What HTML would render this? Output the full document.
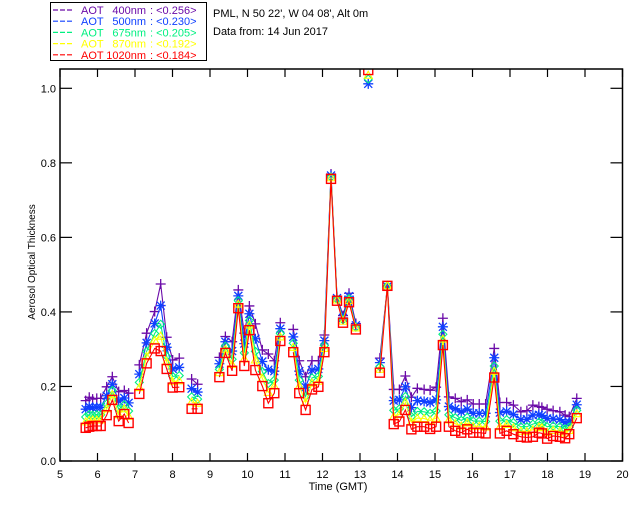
<!DOCTYPE html>
<html><head><meta charset="utf-8"><style>
html,body{margin:0;padding:0;background:#fff;}
svg{display:block;font-family:"Liberation Sans","DejaVu Sans",sans-serif;}
</style></head><body>
<svg id="chart" width="640" height="512" viewBox="0 0 640 512" xmlns="http://www.w3.org/2000/svg">
<rect x="0" y="0" width="640" height="512" fill="#fff"/>
<g id="legend"></g>
<text x="213" y="17" font-size="11">PML, N 50 22', W 04 08', Alt 0m</text>
<text x="213" y="35" font-size="11">Data from: 14 Jun 2017</text>
<defs><clipPath id="plotclip"><rect x="60" y="69" width="563" height="392"/></clipPath></defs>
<g id="series" clip-path="url(#plotclip)"></g>
<g id="axes"></g>
<text x="338" y="490" font-size="11" text-anchor="middle">Time (GMT)</text>
<text x="0" y="0" font-size="10" text-anchor="middle" transform="translate(35,262) rotate(-90)">Aerosol Optical Thickness</text>
</svg>
<script>
const times = [5.685,5.78,5.87,5.98,6.085,6.245,6.395,6.565,6.715,6.83,
7.115,7.31,7.525,7.685,7.845,8.005,8.18,
8.51,8.67,
9.25,9.41,9.59,9.755,9.915,10.05,10.21,10.395,10.555,10.715,10.875,
11.22,11.38,11.55,11.72,11.89,12.05,12.227,12.387,12.547,12.707,12.89,
13.22,
13.53,13.73,13.9,14.05,14.21,14.37,14.53,14.71,14.87,15.03,15.21,15.37,15.54,15.70,15.86,16.02,16.18,16.35,16.58,16.73,16.91,
17.09,17.29,17.45,17.61,17.77,17.85,17.99,18.15,18.33,18.47,18.58,18.78];
const aot400 = [.162,.171,.166,.168,.168,.199,.226,.186,.189,.182,
.258,.343,.401,.475,.332,.271,.276,
.220,.206,
.278,.334,.320,.459,.343,.416,.368,.298,.287,.269,.371,
.353,.269,.226,.269,.269,.338,.770,.441,.390,.450,.369,
1.08,
.276,.470,.192,.192,.228,.171,.195,.192,.190,.198,.383,.172,.168,.159,.164,.153,.153,.153,.302,.157,.157,
.150,.132,.135,.150,.146,.144,.139,.135,.132,.123,.119,.168];
const aot500 = [.139,.146,.143,.144,.144,.175,.206,.161,.169,.156,
.233,.317,.369,.417,.305,.247,.251,
.194,.185,
.261,.320,.295,.443,.315,.395,.328,.267,.245,.241,.355,
.333,.241,.198,.244,.247,.323,.766,.437,.384,.442,.364,
1.012,
.264,.468,.162,.164,.199,.143,.162,.160,.157,.164,.360,.146,.140,.132,.139,.128,.128,.128,.277,.130,.133,
.125,.111,.112,.123,.124,.122,.114,.113,.111,.103,.104,.151];
const aot675 = [.118,.124,.123,.124,.124,.153,.189,.139,.151,.134,
.211,.294,.342,.367,.281,.227,.229,
.172,.166,
.246,.308,.273,.430,.290,.377,.294,.240,.208,.217,.342,
.316,.217,.173,.223,.227,.310,.762,.434,.379,.436,.359,
1.025,
.253,.470,.136,.140,.173,.119,.133,.132,.128,.134,.340,.124,.116,.109,.117,.107,.107,.106,.255,.107,.111,
.103,.092,.092,.099,.104,.102,.092,.094,.092,.086,.091,.136];
const aot870 = [.105,.109,.110,.110,.110,.140,.178,.124,.140,.120,
.197,.280,.324,.335,.266,.213,.215,
.158,.155,
.237,.300,.259,.421,.274,.365,.271,.222,.184,.201,.333,
.305,.201,.157,.209,.214,.302,.760,.432,.375,.431,.357,
1.035,
.246,.470,.119,.125,.157,.104,.115,.114,.109,.115,.327,.110,.100,.094,.102,.093,.093,.091,.241,.092,.098,
.089,.080,.079,.084,.091,.089,.077,.082,.080,.075,.082,.127];
const aot1020 = [.089,.092,.094,.094,.094,.123,.164,.107,.126,.102,
.180,.262,.302,.295,.247,.197,.198,
.140,.140,
.225,.290,.242,.410,.255,.351,.244,.201,.155,.182,.322,
.292,.182,.137,.192,.199,.292,.757,.430,.371,.426,.353,
1.049,
.237,.470,.099,.106,.137,.085,.092,.092,.086,.092,.311,.092,.081,.076,.085,.076,.076,.074,.224,.074,.081,
.072,.065,.063,.065,.076,.074,.060,.067,.065,.061,.072,.115];
const xTicks = [5,6,7,8,9,10,11,12,13,14,15,16,17,18,19,20];
const yTicks = [0.0,0.2,0.4,0.6,0.8,1.0];
const legendLabels = ["400nm","500nm","675nm","870nm","1020nm"];
const legendMeans = ["<0.256>","<0.230>","<0.205>","<0.192>","<0.184>"];

const NS="http://www.w3.org/2000/svg";
const X0=60,X1=622.5,Y0=461,YPER=372.7;
function xs(t){return X0+(t-5)*(X1-X0)/15;}
function ys(v){return Y0-v*YPER;}
function mk(tag,attrs,parent){const e=document.createElementNS(NS,tag);for(const k in attrs)e.setAttribute(k,attrs[k]);parent.appendChild(e);return e;}

const seriesList=[
 {key:"400",vals:aot400,color:"#6a0aa8",m:"plus"},
 {key:"500",vals:aot500,color:"#1040ff",m:"star"},
 {key:"675",vals:aot675,color:"#00f080",m:"diamond"},
 {key:"870",vals:aot870,color:"#ffff00",m:"tri"},
 {key:"1020",vals:aot1020,color:"#ff0000",m:"square"}];
const sg=document.getElementById('series');
seriesList.forEach(s=>{
  const g=mk('g',{},sg);
  
  
  let d='';
  for(let i=0;i<times.length;i++){
    const brk=i===0||times[i]-times[i-1]>0.26;
    d+=(brk?'M':'L')+xs(times[i]).toFixed(1)+' '+ys(s.vals[i]).toFixed(1)+' ';
  }
  const ln=mk('path',{d:d,fill:'none',stroke:s.color,'stroke-width':1.1},g);
  
  
  for(let i=0;i<times.length;i++){
    const x=xs(times[i]),y=ys(s.vals[i]);let e;
    if(s.m==='plus') e=mk('path',{d:`M${x-5} ${y}H${x+5}M${x} ${y-5}V${y+5}`,stroke:s.color,'stroke-width':1.3,fill:'none'},g);
    else if(s.m==='star') e=mk('path',{d:`M${x-5} ${y}H${x+5}M${x} ${y-5}V${y+5}M${x-4} ${y-4}L${x+4} ${y+4}M${x-4} ${y+4}L${x+4} ${y-4}`,stroke:s.color,'stroke-width':1.3,fill:'none'},g);
    else if(s.m==='diamond') e=mk('path',{d:`M${x} ${y-4}L${x+4} ${y}L${x} ${y+4}L${x-4} ${y}Z`,stroke:s.color,'stroke-width':1.1,fill:'none'},g);
    else if(s.m==='tri') e=mk('path',{d:`M${x} ${y-4}L${x+4} ${y+3}L${x-4} ${y+3}Z`,stroke:s.color,'stroke-width':1.1,fill:'none'},g);
    else e=mk('rect',{x:x-4.5,y:y-4.5,width:9,height:9,stroke:s.color,'stroke-width':1.4,fill:'none'},g);
    
    
  }
});

const ax=document.getElementById('axes');
const frame=mk('rect',{x:X0,y:69,width:X1-X0,height:Y0-69,fill:'none',stroke:'#000','stroke-width':1.5},ax);


xTicks.forEach(t=>{
  const x=xs(t);
  mk('line',{x1:x,y1:Y0,x2:x,y2:Y0-8,stroke:'#000','stroke-width':1.2},ax);
  mk('line',{x1:x,y1:69,x2:x,y2:77,stroke:'#000','stroke-width':1.2},ax);
  const tx=mk('text',{x:x,y:Y0+17,'font-size':11,'text-anchor':'middle'},ax);
  tx.textContent=String(t);
  
  
});
yTicks.forEach(v=>{
  const y=ys(v);
  mk('line',{x1:X0,y1:y,x2:X0+12,y2:y,stroke:'#000','stroke-width':1.2},ax);
  mk('line',{x1:X1,y1:y,x2:X1-12,y2:y,stroke:'#000','stroke-width':1.2},ax);
  const tx=mk('text',{x:X0-4,y:y+4,'font-size':11,'text-anchor':'end'},ax);
  tx.textContent=v.toFixed(1);
  
  
});

const lg=document.getElementById('legend');
const lbox=mk('rect',{x:50.5,y:2.5,width:156,height:58,fill:'#fff',stroke:'#000','stroke-width':1},lg);


seriesList.forEach((s,i)=>{
  const y=10+i*11.2;
  const g=mk('g',{},lg);
  
  
  mk('line',{x1:53,y1:y,x2:74,y2:y,stroke:s.color,'stroke-width':1.2,'stroke-dasharray':'5,2'},g);
  const a=mk('text',{x:81,y:y+4,'font-size':11,fill:s.color},g);a.textContent='AOT';
  const b=mk('text',{x:146,y:y+4,'font-size':11,fill:s.color,'text-anchor':'end'},g);b.textContent=legendLabels[i];
  const c=mk('text',{x:150,y:y+4,'font-size':11,fill:s.color},g);c.textContent=': '+legendMeans[i];
});
</script>
</body></html>
